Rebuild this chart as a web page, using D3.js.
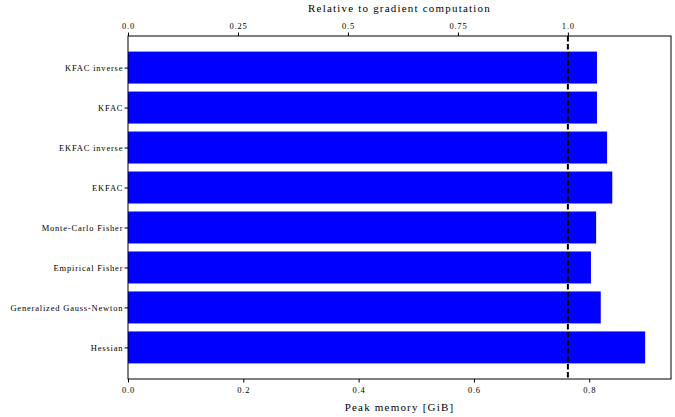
<!DOCTYPE html>
<html>
<head>
<meta charset="utf-8">
<script src="https://cdn.jsdelivr.net/npm/d3@7"></script>
<style>
  body { margin: 0; background: #fff; }
  svg text { font-family: "Liberation Serif", "Times New Roman", serif; fill: #000; }
</style>
</head>
<body>
<svg id="chart"></svg>
<script>
// data (bottom to top)
const methods = ["Hessian", "Generalized Gauss-Newton", "Empirical Fisher", "Monte-Carlo Fisher",
                 "EKFAC", "EKFAC inverse", "KFAC", "KFAC inverse"];
const peakMem = [0.897, 0.820, 0.803, 0.812, 0.840, 0.831, 0.8135, 0.8135];
const gradMem = 0.763;
const bottomTicks = [0.0, 0.2, 0.4, 0.6, 0.8];
const topTicks = [0.0, 0.25, 0.5, 0.75, 1.0];

const width = 675, height = 417;
const margin = {top: 36, right: 4, bottom: 38, left: 128};
const iw = width - margin.left - margin.right,
      ih = height - margin.top - margin.bottom;

const serif = "'Liberation Serif', 'Times New Roman', serif";

const svg = d3.select("#chart").attr("width", width).attr("height", height);
const g = svg.append("g").attr("transform", `translate(${margin.left},${margin.top})`);

const xMax = d3.max(peakMem) * 1.05;
const x = d3.scaleLinear().domain([0, xMax]).range([0, iw]);
const xRel = d3.scaleLinear().domain([0, xMax / gradMem]).range([0, iw]);
// categorical positions like matplotlib barh (0..n-1, bar height 0.8)
const n = methods.length;
const y = d3.scaleLinear().domain([-0.79, n - 1 + 0.79]).range([ih, 0]);
const barH = y(0) - y(0.8);

g.selectAll("rect.bar")
  .data(methods)
  .join("rect")
    .attr("class", "bar")
    .attr("x", 0)
    .attr("y", (d, i) => y(i + 0.4))
    .attr("width", (d, i) => x(peakMem[i]))
    .attr("height", barH)
    .attr("fill", "#0000ff");

// dashed reference line
g.append("line")
  .attr("x1", x(gradMem)).attr("x2", x(gradMem))
  .attr("y1", 0).attr("y2", ih)
  .attr("stroke", "#000")
  .attr("stroke-width", 2)
  .attr("stroke-dasharray", "5.5,2.5");

// frame
g.append("rect")
  .attr("width", iw).attr("height", ih)
  .attr("fill", "none").attr("stroke", "#000").attr("stroke-width", 1);

// axes
const fmt1 = d => d.toFixed(1);
const fmtTop = d => (d === 0 || d === 1 || d === 0.5) ? d.toFixed(1) : String(d);

const xb = g.append("g").attr("transform", `translate(0,${ih})`)
  .call(d3.axisBottom(x).tickValues(bottomTicks).tickFormat(fmt1).tickSize(3.5).tickPadding(4));
const xt = g.append("g")
  .call(d3.axisTop(xRel).tickValues(topTicks).tickFormat(fmtTop).tickSize(3.5).tickPadding(4));
const yl = g.append("g")
  .call(d3.axisLeft(y).tickValues(d3.range(n)).tickFormat(i => methods[i]).tickSize(3.5).tickPadding(2));

[xb, xt, yl].forEach(a => {
  a.attr("font-family", serif);
  a.select(".domain").remove();
  a.selectAll("line").attr("stroke", "#000").attr("stroke-width", 1);
  a.selectAll("text").style("font-size", "8.5px").style("font-family", serif)
    .style("letter-spacing", "0.8px");
});
yl.selectAll("text").attr("dx", "0.8px");

svg.append("text")
  .attr("x", margin.left + iw / 2).attr("y", 411)
  .attr("text-anchor", "middle").style("font-size", "11px").style("font-family", serif)
  .style("letter-spacing", "1.2px")
  .text("Peak memory [GiB]");
svg.append("text")
  .attr("x", margin.left + iw / 2).attr("y", 12)
  .attr("text-anchor", "middle").style("font-size", "11px").style("font-family", serif)
  .style("letter-spacing", "1.2px")
  .text("Relative to gradient computation");
</script>
</body>
</html>
